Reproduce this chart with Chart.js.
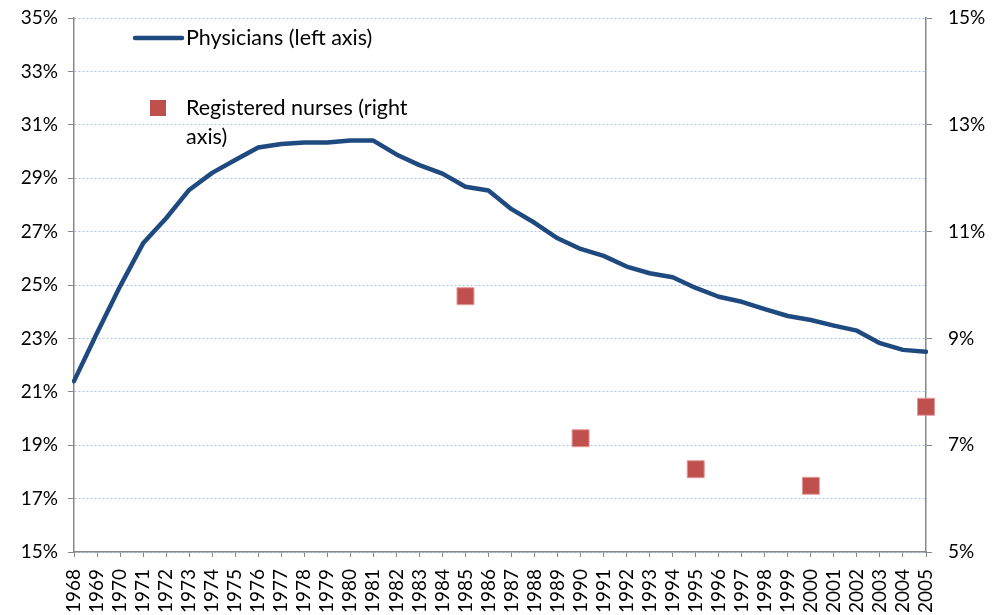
<!DOCTYPE html>
<html>
<head>
<meta charset="utf-8">
<script src="https://cdn.jsdelivr.net/npm/chart.js@4"></script>
<style>
html,body{margin:0;padding:0;background:#fff;}
#wrap{position:relative;width:993px;height:615px;}
</style>
</head>
<body>
<div id="wrap"><canvas id="c" width="993" height="615"></canvas></div>
<script>
const years = ['1968','1969','1970','1971','1972','1973','1974','1975','1976','1977','1978','1979','1980','1981','1982','1983','1984','1985','1986','1987','1988','1989','1990','1991','1992','1993','1994','1995','1996','1997','1998','1999','2000','2001','2002','2003','2004','2005'];
const physicians = [21.4,23.2,24.95,26.56,27.5,28.56,29.2,29.68,30.15,30.28,30.34,30.34,30.41,30.41,29.89,29.49,29.17,28.68,28.54,27.84,27.33,26.75,26.35,26.09,25.69,25.44,25.29,24.89,24.56,24.37,24.1,23.84,23.69,23.48,23.29,22.82,22.57,22.5];
const nurseYears = ['1985','1990','1995','2000','2005'];
const nurseValues = [9.79,7.13,6.55,6.24,7.72];
const leftTicks = {min:15,max:35,step:2};
const rightTicks = {min:5,max:15,step:2};

const nurses = years.map(y => { const i = nurseYears.indexOf(y); return i >= 0 ? nurseValues[i] : null; });

const FONT = 'Lato, "Open Sans", sans-serif';
const blue = '#1f4a80';
const red = '#c0504d';

const legendPlugin = {
  id: 'customLegend',
  afterDraw(chart) {
    const ctx = chart.ctx;
    ctx.save();
    ctx.strokeStyle = blue; ctx.lineWidth = 4.5; ctx.lineCap = 'round';
    ctx.beginPath(); ctx.moveTo(135, 38); ctx.lineTo(182, 38); ctx.stroke();
    ctx.fillStyle = red;
    ctx.fillRect(150, 100, 16, 16);
    ctx.fillStyle = '#000';
    ctx.font = '21.5px ' + FONT;
    ctx.textBaseline = 'middle';
    ctx.textAlign = 'left';
    ctx.fillText('Physicians (left axis)', 186, 38);
    ctx.fillText('Registered nurses (right', 186, 108);
    ctx.fillText('axis)', 186, 137);
    ctx.restore();
  }
};

function fixV(w) { return s => { s.width = w; s.paddingTop = 0; s.paddingBottom = 0; }; }

new Chart(document.getElementById('c'), {
  type: 'line',
  data: {
    labels: years,
    datasets: [
      {label:'Physicians (left axis)', data: physicians, yAxisID:'y', borderColor: blue, borderWidth: 4.5, pointRadius: 0, tension: 0, fill:false, borderCapStyle:'round', borderJoinStyle:'round'},
      {label:'Registered nurses (right axis)', data: nurses, yAxisID:'y1', showLine:false, pointStyle:'rect', pointRadius: 12, pointHoverRadius: 12, backgroundColor: red, pointBackgroundColor: red, pointBorderColor: '#e39a98', pointBorderWidth: 1}
    ]
  },
  options: {
    responsive: false,
    animation: false,
    events: [],
    layout: {padding: {top: 18, left: 0, right: 0, bottom: 0}},
    plugins: {legend: {display:false}, tooltip: {enabled:false}},
    scales: {
      x: {
        type: 'category',
        offset: false,
        afterFit: s => { s.height = 63; s.paddingLeft = 0; s.paddingRight = 0; },
        grid: {drawOnChartArea:false, drawTicks:true, tickLength:5, tickColor:'#888', lineWidth:1},
        border: {display:true, color:'#888', width:1.5},
        ticks: {autoSkip:false, maxRotation:90, minRotation:90, padding:12, color:'#000', font:{family:FONT, size:19}}
      },
      y: {
        position: 'left',
        min: leftTicks.min, max: leftTicks.max,
        afterFit: fixV(74),
        grid: {color: '#a9c4e6', lineWidth: 1, tickColor:'#888', tickLength:6, tickWidth:1},
        border: {display:true, color:'#888', width:1.5, dash:[2,2]},
        ticks: {stepSize: leftTicks.step, padding: 10, color:'#000', font:{family:FONT, size:19}, callback: v => v + '%'}
      },
      y1: {
        position: 'right',
        min: rightTicks.min, max: rightTicks.max,
        afterFit: fixV(67),
        grid: {drawOnChartArea:false, tickColor:'#888', tickLength:6, tickWidth:1},
        border: {display:true, color:'#888', width:1.5},
        ticks: {stepSize: rightTicks.step, padding: 16, color:'#000', font:{family:FONT, size:19}, callback: v => v + '%'}
      }
    }
  },
  plugins: [legendPlugin]
});
</script>
</body>
</html>
